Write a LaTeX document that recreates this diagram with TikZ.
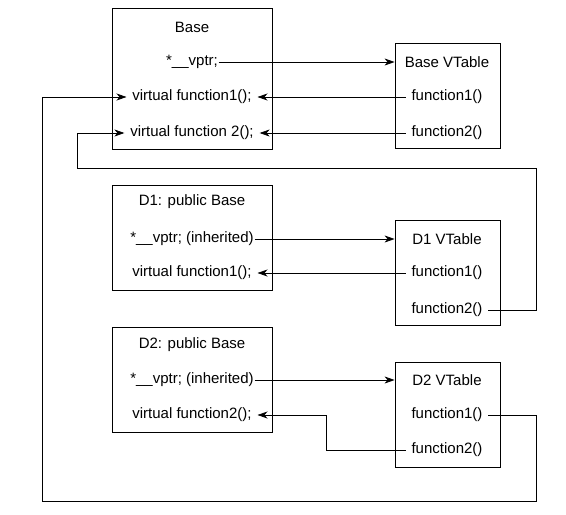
\documentclass[tikz,border=0pt]{standalone}
\usepackage{fontspec}
\setmainfont{Liberation Sans}
\usetikzlibrary{arrows.meta, positioning}

\begin{document}
\begin{tikzpicture}[x=1pt, y=-1pt, line width=0.8pt,
    hop/.style={draw, minimum width=160pt, inner sep=0pt},
    bang/.style={draw, minimum width=105pt, minimum height=105pt, inner sep=0pt},
    chu/.style={font=\fontsize{15}{18}\selectfont, inner xsep=5.5pt, inner ysep=3pt},
    mui/.style={-{Stealth[length=10pt, width=7pt, inset=3pt]}}]
    \useasboundingbox (0,0) rectangle (566,515);

    % Khung "Base" va bang ao cua no
    \node[hop, minimum height=141pt] (base) at (192,78.5) {};
    \node[chu] (baseT) at (192,27) {Base};
    \node[chu] (baseP) at (192,62) {*\_\_vptr;};
    \node[chu] (baseF1) at (192,97) {virtual function1();};
    \node[chu] (baseF2) at (192,133) {virtual function 2();};
    \node[bang] (bv) at (447.5,95.5) {};
    \node[chu] (bvT) at (447,62) {Base VTable};
    \node[chu] (bvF1) at (447,97) {function1()};
    \node[chu] (bvF2) at (447,133) {function2()};
    \draw[mui] ([xshift=-5pt]baseP.east) -- (baseP -| bv.west); % vptr tro toi bang
    \draw[mui] (bvF1.west) -- (baseF1.east);
    \draw[mui] (bvF2.west) -- (baseF2.east);

    % Khung "D1"
    \node[hop, minimum height=105pt] (d1) at (192,237.5) {};
    \node[chu] (d1T) at (192,202) {D1: public Base};
    \node[chu] (d1P) at (192,239) {*\_\_vptr; (inherited)};
    \node[chu] (d1F1) at (192,273) {virtual function1();};
    \node[bang] (d1v) at (447.5,273) {};
    \node[chu] (d1vT) at (447,239) {D1 VTable};
    \node[chu] (d1vF1) at (447,273) {function1()};
    \node[chu] (d1vF2) at (447,310) {function2()};
    \draw[mui] ([xshift=-5pt]d1P.east) -- (d1P -| d1v.west);
    \draw[mui] (d1vF1.west) -- (d1F1.east);

    % Khung "D2"
    \node[hop, minimum height=105pt] (d2) at (192,379.5) {};
    \node[chu] (d2T) at (192,345) {D2: public Base};
    \node[chu] (d2P) at (192,380) {*\_\_vptr; (inherited)};
    \node[chu] (d2F2) at (192,415) {virtual function2();};
    \node[bang] (d2v) at (447.5,414.5) {};
    \node[chu] (d2vT) at (447,380) {D2 VTable};
    \node[chu] (d2vF1) at (447,415) {function1()};
    \node[chu] (d2vF2) at (447,450) {function2()};
    \draw[mui] ([xshift=-5pt]d2P.east) -- (d2P -| d2v.west);
    \coordinate (g2) at (326,450);
    \draw[mui] (d2vF2.west) -- (g2) |- (d2F2.east);

    % Duong vong ve ham cua Base
    \coordinate (r1) at (536,168);
    \coordinate (l1) at (77,168);
    \draw[mui] (d1vF2.east) -| (r1) -- (l1) |- (baseF2.west); % D1 function2 -> Base
    \coordinate (r2) at (536,501);
    \coordinate (l2) at (42,501);
    \draw[mui] (d2vF1.east) -| (r2) -- (l2) |- (baseF1.west); % D2 function1 -> Base
\end{tikzpicture}
\end{document}
